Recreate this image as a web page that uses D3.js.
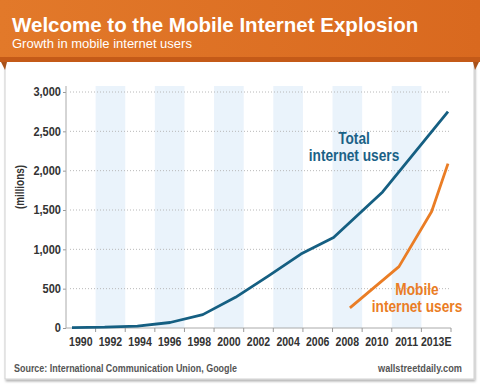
<!DOCTYPE html>
<html>
<head>
<meta charset="utf-8">
<script src="https://cdn.jsdelivr.net/npm/d3@7"></script>
<style>
  body { margin: 0; background: #fff; }
  svg { display: block; }
  text { font-family: Arial, "Liberation Sans", sans-serif; }
</style>
</head>
<body>
<section></section>
<script>

// data

const categories = ['1990', '1992', '1994', '1996', '1998', '2000', '2002', '2004', '2006', '2008', '2010', '2011', '2013E'];

const totalYears = [1990, 1992, 1994, 1996, 1998, 2000, 2002, 2004, 2006, 2009, 2013];
const totalUsers = [5, 10, 25, 70, 170, 390, 660, 940, 1150, 1730, 2750];

const mobileYears = [2007, 2010, 2012, 2013];
const mobileUsers = [255, 780, 1480, 2090];

const yTicks = [0, 500, 1000, 1500, 2000, 2500, 3000];


const w = 480;
const h = 384;

const svg = d3.select('section').append('svg').attr('width', w).attr('height', h);

// narrow the glyphs horizontally (no condensed font installed)
function squeeze(sel, sx, extra) {
    sel.each(function () {
        const t = d3.select(this);
        const x = +t.attr('x') || 0;
        t.attr('x', x / sx).attr('transform', `${extra || ''} scale(${sx},1)`);
    });
}

function fit(sel, width, extra) {
    const len = sel.node().getComputedTextLength();
    squeeze(sel, width / len, extra);
}

const defs = svg.append('defs');

const grad = defs.append('linearGradient').attr('id', 'hdr').attr('x1', 0).attr('x2', 1);
grad.append('stop').attr('offset', 0).attr('stop-color', '#e2792a');
grad.append('stop').attr('offset', 1).attr('stop-color', '#d9691f');

const shadow = defs.append('filter').attr('id', 'shadow').attr('x', -0.05).attr('y', -0.05).attr('width', 1.1).attr('height', 1.1);
shadow.append('feDropShadow').attr('dx', 1).attr('dy', 2).attr('stdDeviation', 1.2).attr('flood-color', '#000').attr('flood-opacity', 0.3);


// panel

svg.append('rect').attr('x', 5).attr('y', 56).attr('width', 469).attr('height', 323)
    .attr('fill', '#fff').attr('stroke', '#d0d0d0').attr('stroke-width', 1)
    .attr('filter', 'url(#shadow)');


// header

svg.append('rect').attr('x', 0).attr('y', 0).attr('width', w).attr('height', 61).attr('fill', 'url(#hdr)');
svg.append('rect').attr('x', 0).attr('y', 57).attr('width', w).attr('height', 5).attr('fill', '#c45a18');
svg.append('path').attr('d', 'M1,62 L7,62 L5,70 Z').attr('fill', '#a8511a');
svg.append('path').attr('d', 'M473,62 L479,62 L475,70 Z').attr('fill', '#a8511a');

svg.append('text').attr('x', 12).attr('y', 32)
    .attr('font-weight', 'bold').attr('font-size', 20.5).attr('fill', '#fff')
    .text('Welcome to the Mobile Internet Explosion');

svg.append('text').attr('x', 12).attr('y', 48)
    .attr('font-size', 13).attr('fill', '#fff')
    .text('Growth in mobile internet users');


// scales

const pl = 66, pr = 451, pt = 86, pb = 328;

const xBand = d3.scaleBand().domain(categories).range([pl, pr]);

const xScale = d3.scaleLinear().domain([1990, 2013]).range([72, 448]);

const yScale = d3.scaleLinear().domain([0, 3000]).range([pb, 92]);


// shaded bands

svg.append('g').selectAll('rect').data(categories.filter((d, i) => i % 2 === 1)).enter().append('rect')
    .attr('x', d => xBand(d))
    .attr('y', pt)
    .attr('width', xBand.bandwidth())
    .attr('height', pb - pt)
    .attr('fill', '#eaf3fb');


// grid

svg.append('g').selectAll('line').data(yTicks.filter(d => d > 0)).enter().append('line')
    .attr('x1', pl + 4).attr('x2', pr)
    .attr('y1', d => yScale(d)).attr('y2', d => yScale(d))
    .attr('stroke', '#b8b8b8').attr('stroke-width', 1)
    .attr('stroke-dasharray', '1,2');


// y axis

const yAxis = d3.axisLeft(yScale).tickValues(yTicks).tickFormat(d3.format(',')).tickSize(3).tickPadding(2);

const gy = svg.append('g').attr('transform', `translate(${pl},0)`).call(yAxis);
gy.select('.domain').remove();
gy.selectAll('line').attr('stroke', '#999');
gy.selectAll('text').attr('font-family', null).attr('font-weight', 'bold').attr('font-size', 12).attr('fill', '#333');
squeeze(gy.selectAll('text'), 0.92);

svg.append('line').attr('x1', pl).attr('x2', pl).attr('y1', pt).attr('y2', pb).attr('stroke', '#aaa');

const ylab = svg.append('text')
    .attr('text-anchor', 'middle').attr('dy', '0.35em')
    .attr('font-weight', 'bold').attr('font-size', 12).attr('fill', '#333')
    .text('(millions)');
fit(ylab, 44, 'translate(20,187) rotate(-90)');


// x axis

const xAxis = d3.axisBottom(xBand).tickSize(0).tickPadding(9);

const gx = svg.append('g').attr('transform', `translate(0,${pb})`).call(xAxis);
gx.select('.domain').remove();
gx.selectAll('text').attr('font-family', null).attr('font-weight', 'bold').attr('font-size', 12).attr('fill', '#333');
squeeze(gx.selectAll('text'), 0.88);

svg.append('line').attr('x1', pl).attr('x2', pr).attr('y1', pb).attr('y2', pb).attr('stroke', '#aaa');

svg.append('g').selectAll('line').data(categories).enter().append('line')
    .attr('x1', d => xBand(d) + xBand.bandwidth()).attr('x2', d => xBand(d) + xBand.bandwidth())
    .attr('y1', pb).attr('y2', pb + 4)
    .attr('stroke', '#999');


// lines

const line = d3.line().x(d => xScale(d[0])).y(d => yScale(d[1]));

svg.append('path').datum(d3.zip(totalYears, totalUsers))
    .attr('d', line).attr('fill', 'none')
    .attr('stroke', '#155f82').attr('stroke-width', 2.8).attr('stroke-linejoin', 'round');

svg.append('path').datum(d3.zip(mobileYears, mobileUsers))
    .attr('d', line).attr('fill', 'none')
    .attr('stroke', '#ea7d25').attr('stroke-width', 2.8).attr('stroke-linejoin', 'round');


// labels

const lbl = (x, y, t, c) => svg.append('text').attr('x', x).attr('y', y).attr('text-anchor', 'middle')
    .attr('font-weight', 'bold').attr('font-size', 16.5).attr('fill', c).text(t);

squeeze(lbl(354, 144, 'Total', '#1a6186'), 0.83);
squeeze(lbl(354, 161, 'internet users', '#1a6186'), 0.83);
squeeze(lbl(417, 295, 'Mobile', '#ea7d25'), 0.83);
squeeze(lbl(417, 312, 'internet users', '#ea7d25'), 0.83);


// footer

const src = svg.append('text').attr('x', 14).attr('y', 372)
    .attr('font-weight', 'bold').attr('font-size', 10.5).attr('fill', '#555')
    .text('Source: International Communication Union, Google');
fit(src, 223);

const site = svg.append('text').attr('x', 462).attr('y', 372).attr('text-anchor', 'end')
    .attr('font-weight', 'bold').attr('font-size', 10.5).attr('fill', '#555')
    .text('wallstreetdaily.com');
fit(site, 84);

</script>
</body>
</html>
